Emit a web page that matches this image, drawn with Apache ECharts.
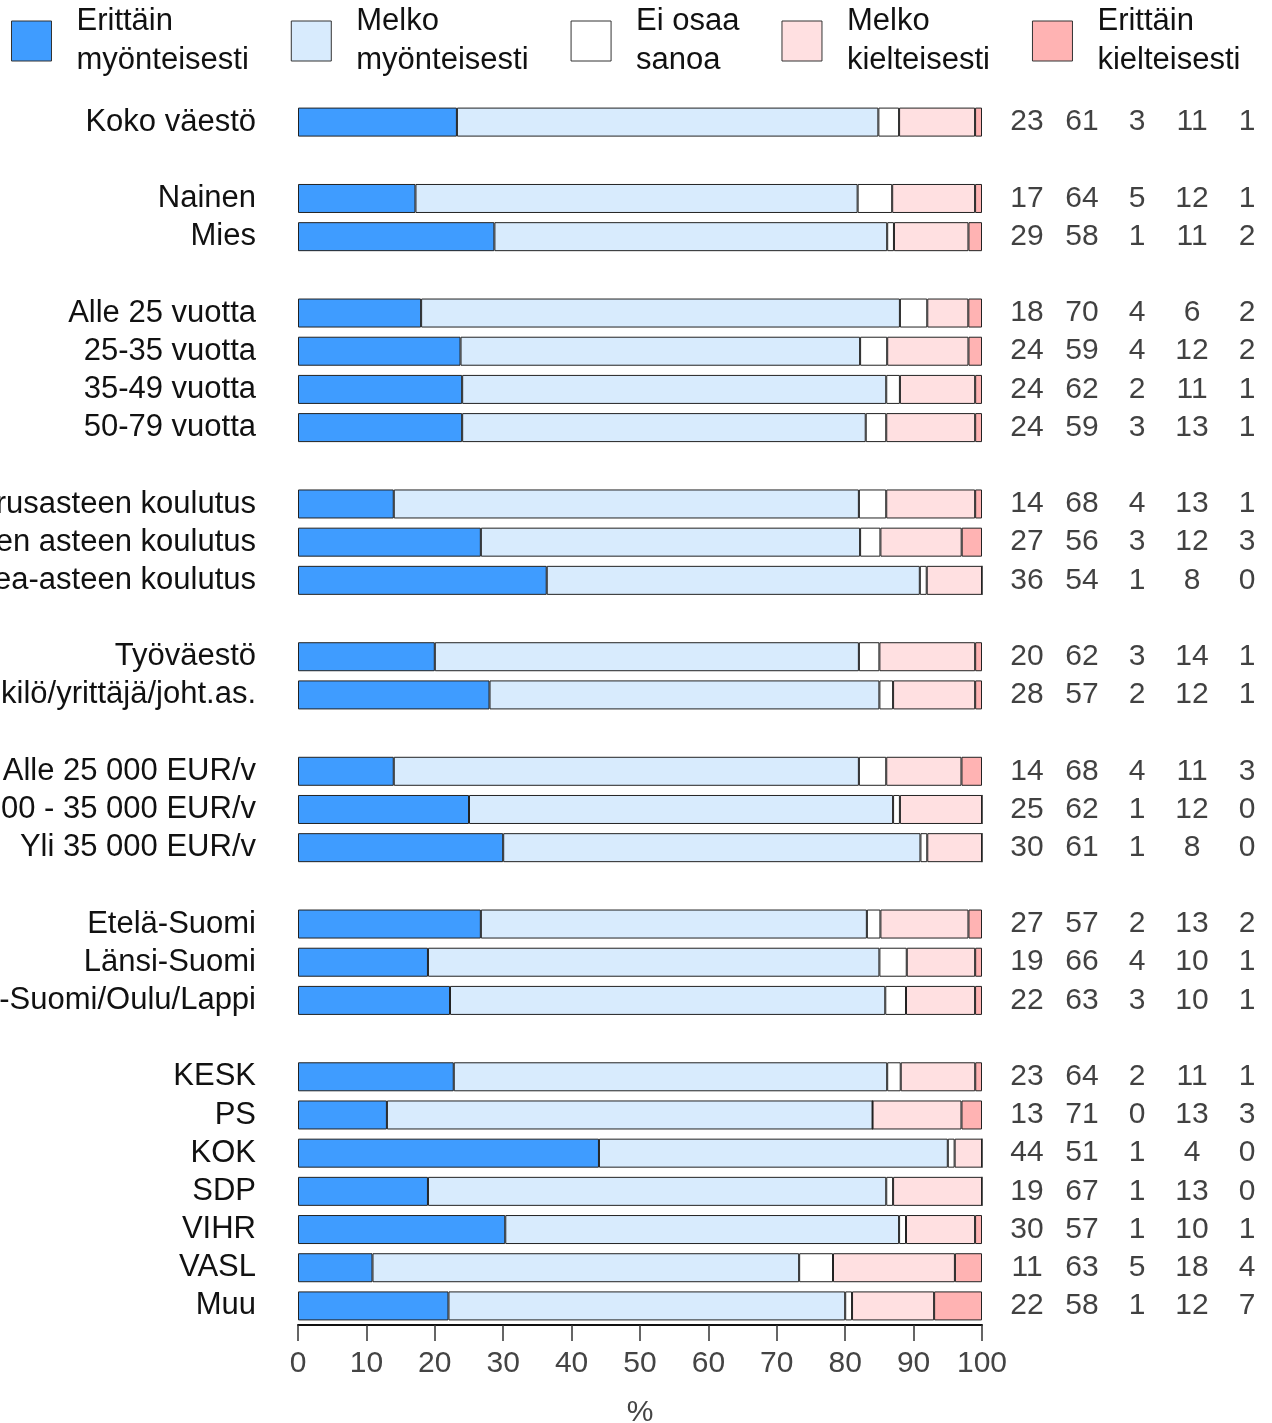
<!DOCTYPE html>
<html>
<head>
<meta charset="utf-8">
<title>Suhtautuminen väestöryhmittäin</title>
<script src="https://cdn.jsdelivr.net/npm/echarts@6/dist/echarts.min.js"></script>
<style>
  html, body { margin: 0; padding: 0; background: #ffffff; }
  #chart { width: 1272px; height: 1423px; }
</style>
</head>
<body>
<div id="chart"></div>
<script>
// Row labels; empty strings are spacer rows between groups
const categories = [
  'Koko väestö', '',
  'Nainen', 'Mies', '',
  'Alle 25 vuotta', '25-35 vuotta', '35-49 vuotta', '50-79 vuotta', '',
  'Perusasteen koulutus', 'Toisen asteen koulutus', 'Korkea-asteen koulutus', '',
  'Työväestö', 'Toimihenkilö/yrittäjä/joht.as.', '',
  'Alle 25 000 EUR/v', '25 000 - 35 000 EUR/v', 'Yli 35 000 EUR/v', '',
  'Etelä-Suomi', 'Länsi-Suomi', 'Itä-Suomi/Oulu/Lappi', '',
  'KESK', 'PS', 'KOK', 'SDP', 'VIHR', 'VASL', 'Muu'
];

const seriesNames = [
  'Erittäin myönteisesti',
  'Melko myönteisesti',
  'Ei osaa sanoa',
  'Melko kielteisesti',
  'Erittäin kielteisesti'
];
const legendLabels = [
  'Erittäin\nmyönteisesti',
  'Melko\nmyönteisesti',
  'Ei osaa\nsanoa',
  'Melko\nkielteisesti',
  'Erittäin\nkielteisesti'
];

// Percentages per row (null = spacer row)
const erittainMyonteisesti = [23, null, 17, 29, null, 18, 24, 24, 24, null, 14, 27, 36, null, 20, 28, null, 14, 25, 30, null, 27, 19, 22, null, 23, 13, 44, 19, 30, 11, 22];
const melkoMyonteisesti    = [61, null, 64, 58, null, 70, 59, 62, 59, null, 68, 56, 54, null, 62, 57, null, 68, 62, 61, null, 57, 66, 63, null, 64, 71, 51, 67, 57, 63, 58];
const eiOsaaSanoa          = [3,  null, 5,  1,  null, 4,  4,  2,  3,  null, 4,  3,  1,  null, 3,  2,  null, 4,  1,  1,  null, 2,  4,  3,  null, 2,  0,  1,  1,  1,  5,  1];
const melkoKielteisesti    = [11, null, 12, 11, null, 6,  12, 11, 13, null, 13, 12, 8,  null, 14, 12, null, 11, 12, 8,  null, 13, 10, 10, null, 11, 13, 4,  13, 10, 18, 12];
const erittainKielteisesti = [1,  null, 1,  2,  null, 2,  2,  1,  1,  null, 1,  3,  0,  null, 1,  1,  null, 3,  0,  0,  null, 2,  1,  1,  null, 1,  3,  0,  0,  1,  4,  7];

const xTicks = [0, 10, 20, 30, 40, 50, 60, 70, 80, 90, 100];

const valueSets = [erittainMyonteisesti, melkoMyonteisesti, eiOsaaSanoa, melkoKielteisesti, erittainKielteisesti];
const colors = ['#3f9cff', '#d8ebfd', '#ffffff', '#ffe0e1', '#ffb3b3'];

const FONT = "'Liberation Sans', Arial, Helvetica, sans-serif";

// Each bar is shown as a share of its row total so that it spans 0–100 %
const rowTotals = categories.map((c, i) =>
  valueSets.every(s => s[i] == null) ? null : valueSets.reduce((a, s) => a + (s[i] || 0), 0)
);

const barSeries = valueSets.map((vals, k) => ({
  name: seriesNames[k],
  type: 'bar',
  stack: 'total',
  xAxisIndex: 0,
  yAxisIndex: 0,
  barWidth: 29,
  itemStyle: { color: colors[k], borderColor: '#222222', borderWidth: 1 },
  emphasis: { disabled: true },
  data: vals.map((v, i) => (v == null ? null : v / rowTotals[i] * 100))
}));

// Numeric table to the right of the bars
const tableSeries = {
  type: 'scatter',
  xAxisIndex: 1,
  yAxisIndex: 1,
  symbolSize: 1,
  itemStyle: { color: 'rgba(0,0,0,0)' },
  silent: true,
  label: {
    show: true,
    position: 'inside',
    fontFamily: FONT,
    fontSize: 30,
    color: '#111111',
    formatter: p => String(p.value[2])
  },
  data: (() => {
    const out = [];
    valueSets.forEach((vals, k) => {
      vals.forEach((v, i) => { if (v != null) out.push([k, i, v]); });
    });
    return out;
  })()
};

const chart = echarts.init(document.getElementById('chart'), null, { renderer: 'canvas' });
chart.setOption({
  animation: false,
  backgroundColor: '#ffffff',
  textStyle: { fontFamily: FONT },
  legend: {
    data: seriesNames,
    left: 11,
    top: 2,
    padding: 0,
    itemGap: 42,
    itemWidth: 40,
    itemHeight: 40,
    icon: 'rect',
    selectedMode: false,
    itemStyle: { borderColor: '#333333', borderWidth: 1 },
    formatter: name => legendLabels[seriesNames.indexOf(name)],
    textStyle: {
      fontFamily: FONT,
      fontSize: 31,
      lineHeight: 39,
      color: '#111111',
      padding: [0, 0, 0, 20]
    }
  },
  grid: [
    { left: 298, width: 684, top: 103, height: 1222, containLabel: false, outerBoundsMode: 'none' },
    { left: 999.5, width: 275, top: 103, height: 1222, containLabel: false, outerBoundsMode: 'none' }
  ],
  xAxis: [
    {
      gridIndex: 0,
      type: 'value',
      min: xTicks[0],
      max: xTicks[xTicks.length - 1],
      interval: xTicks[1] - xTicks[0],
      name: '%',
      nameLocation: 'middle',
      nameGap: 73,
      nameTextStyle: { fontFamily: FONT, fontSize: 30, color: '#444444' },
      axisLine: { show: true, lineStyle: { color: '#111111', width: 2 } },
      axisTick: { show: true, length: 16, lineStyle: { color: '#333333', width: 1.5 } },
      axisLabel: { fontFamily: FONT, fontSize: 30, color: '#444444', margin: 24 },
      splitLine: { show: false }
    },
    {
      gridIndex: 1,
      type: 'category',
      data: [0, 1, 2, 3, 4],
      show: false
    }
  ],
  yAxis: [
    {
      gridIndex: 0,
      type: 'category',
      data: categories,
      inverse: true,
      axisLine: { show: false },
      axisTick: { show: false },
      splitLine: { show: false },
      axisLabel: {
        fontFamily: FONT,
        fontSize: 31,
        color: '#111111',
        margin: 42,
        interval: 0
      }
    },
    {
      gridIndex: 1,
      type: 'category',
      data: categories,
      inverse: true,
      show: false
    }
  ],
  series: [...barSeries, tableSeries]
});
</script>
</body>
</html>
